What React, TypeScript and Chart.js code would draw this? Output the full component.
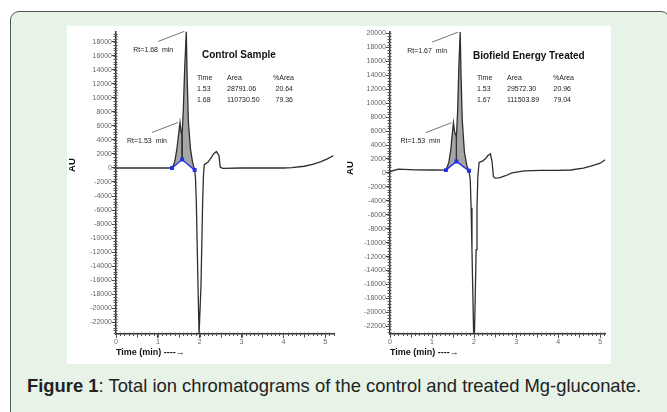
import React, { useEffect, useRef } from 'react';
import { Chart, registerables } from 'chart.js';

Chart.register(...registerables);

// ---------- Control sample ----------
const controlTime = [0, 0.04, 0.08, 0.5, 1.0, 1.34, 1.40, 1.45, 1.50, 1.53, 1.56, 1.58, 1.61, 1.64, 1.68, 1.70, 1.73, 1.78, 1.83, 1.88, 1.90, 1.92, 1.94, 1.96, 1.985, 2.005, 2.03, 2.05, 2.07, 2.09, 2.11, 2.20, 2.28, 2.33, 2.40, 2.46, 2.49, 2.55, 3.0, 3.5, 4.0, 4.2, 4.5, 4.7, 4.9, 5.05, 5.2];
const controlAU = [0, 0, 0, 0, 0, 0, 800, 2500, 5000, 6500, 5000, 4700, 8500, 14000, 19500, 13000, 6500, 2700, 800, -300, -1500, -5000, -11000, -17000, -23700, -23700, -17000, -11000, -5000, -1000, 470, 850, 1500, 2000, 2350, 1790, 140, -50, 0, 0, 0, 50, 250, 500, 900, 1300, 1790];
const controlBaseTime = [1.34, 1.58, 1.88];
const controlBaseAU = [0, 1200, -300];
const controlPeakTimes = [1.53, 1.68];
const controlPeakLabels = ['Rt=1.53  min', 'Rt=1.68  min'];
const controlYTicks = [-22000, -20000, -18000, -16000, -14000, -12000, -10000, -8000, -6000, -4000, -2000, 0, 2000, 4000, 6000, 8000, 10000, 12000, 14000, 16000, 18000];
const controlTitle = 'Control Sample';
const controlTable = [['1.53', '28791.06', '20.64'], ['1.68', '110730.50', '79.36']];

// ---------- Biofield Energy Treated ----------
const treatedTime = [0, 0.2, 0.6, 1.0, 1.33, 1.40, 1.45, 1.48, 1.51, 1.54, 1.58, 1.61, 1.64, 1.67, 1.69, 1.72, 1.77, 1.83, 1.88, 1.91, 1.93, 1.95, 1.97, 1.99, 2.01, 2.03, 2.05, 2.07, 2.09, 2.12, 2.20, 2.27, 2.33, 2.39, 2.43, 2.46, 2.50, 2.60, 2.75, 2.9, 3.2, 3.6, 4.0, 4.3, 4.6, 4.8, 5.0, 5.12];
const treatedAU = [200, 550, 450, 420, 400, 1500, 3500, 5500, 7200, 5800, 5200, 9000, 15500, 20200, 14000, 7500, 3000, 1000, 300, -1000, -5000, -11000, -17000, -23100, -23100, -17000, -11000, -5000, -500, 1500, 1700, 2030, 2500, 2740, 1560, -500, -750, -700, -400, 0, 300, 380, 380, 420, 700, 1000, 1400, 1890];
const treatedBaseTime = [1.33, 1.58, 1.88];
const treatedBaseAU = [400, 1650, 300];
const treatedPeakTimes = [1.51, 1.67];
const treatedPeakLabels = ['Rt=1.53  min', 'Rt=1.67  min'];
const treatedYTicks = [-22000, -20000, -18000, -16000, -14000, -12000, -10000, -8000, -6000, -4000, -2000, 0, 2000, 4000, 6000, 8000, 10000, 12000, 14000, 16000, 18000, 20000];
const treatedTitle = 'Biofield Energy Treated';
const treatedTable = [['1.53', '29572.30', '20.96'], ['1.67', '111503.89', '79.04']];

const xTicks = [0, 1, 2, 3, 4, 5];
const tableHeader = ['Time', 'Area', '%Area'];
const yAxisTitle = 'AU';
const xAxisTitle = 'Time (min) ----\u2192';
const caption = ': Total ion chromatograms of the control and treated Mg-gluconate.';
const captionBold = 'Figure 1';

const FONT = '"Liberation Sans", Arial, Helvetica, sans-serif';

const chromPlugin = {
  id: 'chrom',
  afterDraw(chart: any, _args: any, opts: any) {
    const { ctx, scales, chartArea } = chart;
    const x = scales.x;
    const y = scales.y;
    ctx.save();
    ctx.strokeStyle = '#555';
    ctx.lineWidth = 1;
    // minor y ticks
    const ys = opts.yMinor;
    for (let k = Math.ceil(y.min / ys); k * ys <= y.max; k++) {
      const py = Math.round(y.getPixelForValue(k * ys)) + 0.5;
      ctx.beginPath();
      ctx.moveTo(chartArea.left - 2.5, py);
      ctx.lineTo(chartArea.left + 1.5, py);
      ctx.stroke();
    }
    // minor x ticks
    const xs = opts.xMinor;
    for (let k = 0; k * xs <= x.max + 1e-9; k++) {
      const px = Math.round(x.getPixelForValue(k * xs)) + 0.5;
      const len = k % 5 === 0 ? 3.5 : 2;
      ctx.beginPath();
      ctx.moveTo(px, chartArea.bottom - 1.5);
      ctx.lineTo(px, chartArea.bottom + len);
      ctx.stroke();
    }
    // peak annotations
    ctx.font = '7px ' + FONT;
    ctx.textBaseline = 'middle';
    ctx.fillStyle = '#222';
    opts.peaks.forEach((pk: any) => {
      const px = x.getPixelForValue(pk.x);
      const py = y.getPixelForValue(pk.y);
      ctx.strokeStyle = '#666';
      ctx.lineWidth = 0.9;
      ctx.beginPath();
      ctx.moveTo(px - 28, py + 10);
      ctx.lineTo(px - 2, py);
      ctx.stroke();
      ctx.fillText(pk.label, px - 53, py + 18.5);
    });
    ctx.restore();
  },
};

type Spec = {
  time: number[];
  au: number[];
  baseTime: number[];
  baseAU: number[];
  peakTimes: number[];
  peakLabels: string[];
  yTicks: number[];
  yMin: number;
  yMax: number;
  xMax: number;
  yAxisW: number;
  xAxisH: number;
  padTop: number;
  padRight: number;
};

function buildConfig(s: Spec): any {
  const trace = s.time.map((t, i) => ({ x: t, y: s.au[i] }));
  const base = s.baseTime.map((t, i) => ({ x: t, y: s.baseAU[i] }));
  const t0 = s.baseTime[0];
  const t1 = s.baseTime[s.baseTime.length - 1];
  const seg = trace.filter((p) => p.x >= t0 && p.x <= t1);
  const vIdx = s.time.indexOf(s.baseTime[1]);
  const drop = [
    { x: s.time[vIdx], y: s.au[vIdx] },
    { x: s.baseTime[1], y: s.baseAU[1] },
  ];
  const peaks = s.peakTimes.map((t, i) => ({ x: t, y: s.au[s.time.indexOf(t)], label: s.peakLabels[i] }));
  return {
    type: 'line',
    data: {
      datasets: [
        { data: trace, borderColor: '#2e2e2e', borderWidth: 1.3, pointRadius: 0, fill: false, order: 1 },
        {
          data: base,
          borderColor: '#2233e6',
          borderWidth: 1.4,
          pointRadius: 1.8,
          pointStyle: 'rect',
          pointBackgroundColor: '#2233e6',
          pointBorderColor: '#2233e6',
          fill: false,
          order: 0,
        },
        { data: drop, borderColor: '#333', borderWidth: 1, pointRadius: 0, fill: false, order: 2 },
        { data: seg, borderWidth: 0, borderColor: 'rgba(0,0,0,0)', pointRadius: 0, fill: '-2', backgroundColor: '#a6a6a6', order: 3 },
      ],
    },
    options: {
      animation: false,
      responsive: false,
      maintainAspectRatio: false,
      events: [],
      layout: { padding: { top: s.padTop, right: s.padRight, left: 0, bottom: 0 } },
      plugins: {
        legend: { display: false },
        tooltip: { enabled: false },
        chrom: { yMinor: 400, xMinor: 0.1, peaks },
      },
      scales: {
        x: {
          type: 'linear',
          min: 0,
          max: s.xMax,
          afterBuildTicks: (sc: any) => {
            sc.ticks = xTicks.map((v) => ({ value: v }));
          },
          afterFit: (sc: any) => {
            sc.height = s.xAxisH;
          },
          grid: { display: true, drawOnChartArea: false, drawTicks: true, tickLength: 4, color: '#444', lineWidth: 1 },
          border: { display: true, color: '#333', width: 1.5 },
          ticks: {
            font: { size: 7, family: FONT },
            color: '#666',
            padding: 0,
            maxRotation: 0,
            autoSkip: false,
            callback: (v: any) => String(v),
          },
          title: {
            display: true,
            text: xAxisTitle,
            align: 'start',
            font: { size: 9, weight: 'bold', family: FONT },
            color: '#111',
            padding: { top: 0, bottom: 6 },
          },
        },
        y: {
          type: 'linear',
          min: s.yMin,
          max: s.yMax,
          afterBuildTicks: (sc: any) => {
            sc.ticks = s.yTicks.map((v) => ({ value: v }));
          },
          afterFit: (sc: any) => {
            sc.width = s.yAxisW;
          },
          grid: { display: true, drawOnChartArea: false, drawTicks: true, tickLength: 4, color: '#444', lineWidth: 1 },
          border: { display: true, color: '#333', width: 1.5 },
          ticks: {
            font: { size: 7, family: FONT },
            color: '#666',
            padding: 0,
            autoSkip: false,
            callback: (v: any) => String(v),
          },
        },
      },
    },
    plugins: [chromPlugin],
  };
}

function ChromChart(props: { spec: Spec; left: number; top: number; width: number; height: number }) {
  const ref = useRef<HTMLCanvasElement | null>(null);
  useEffect(() => {
    if (!ref.current) return;
    const chart = new Chart(ref.current, buildConfig(props.spec));
    return () => chart.destroy();
  }, []);
  return (
    <canvas
      ref={ref}
      width={props.width}
      height={props.height}
      style={{ position: 'absolute', left: props.left, top: props.top, width: props.width, height: props.height }}
    />
  );
}

function Table(props: { left: number; top: number; title: string; rows: string[][]; cols: number[]; valCols: number[]; titleLeft: number; titleTop: number }) {
  const cell = (txt: string, x: number, y: number, key: string) => (
    <span key={key} style={{ position: 'absolute', left: x, top: y, fontSize: 7, lineHeight: '11px', whiteSpace: 'nowrap', color: '#222' }}>
      {txt}
    </span>
  );
  return (
    <>
      <div style={{ position: 'absolute', left: props.titleLeft, top: props.titleTop, fontSize: 10, lineHeight: '12px', fontWeight: 'bold', color: '#111', whiteSpace: 'nowrap' }}>
        {props.title}
      </div>
      {tableHeader.map((h, i) => cell(h, props.left + props.cols[i], props.top, 'h' + i))}
      {props.rows.map((r, ri) => r.map((c, ci) => cell(c, props.left + props.valCols[ci], props.top + 11 * (ri + 1), 'r' + ri + ci)))}
    </>
  );
}

export default function App() {
  const controlSpec: Spec = {
    time: controlTime,
    au: controlAU,
    baseTime: controlBaseTime,
    baseAU: controlBaseAU,
    peakTimes: controlPeakTimes,
    peakLabels: controlPeakLabels,
    yTicks: controlYTicks,
    yMin: -23700,
    yMax: 19500,
    xMax: 5.2,
    yAxisW: 49,
    xAxisH: 30,
    padTop: 1.5,
    padRight: 3.7,
  };
  const treatedSpec: Spec = {
    time: treatedTime,
    au: treatedAU,
    baseTime: treatedBaseTime,
    baseAU: treatedBaseAU,
    peakTimes: treatedPeakTimes,
    peakLabels: treatedPeakLabels,
    yTicks: treatedYTicks,
    yMin: -23100,
    yMax: 20300,
    xMax: 5.13,
    yAxisW: 45,
    xAxisH: 30,
    padTop: 1.9,
    padRight: 3.4,
  };
  const auStyle = (x: number, y: number): React.CSSProperties => ({
    position: 'absolute',
    left: x - 10,
    top: y - 6,
    width: 20,
    height: 12,
    lineHeight: '12px',
    textAlign: 'center',
    fontSize: 9.5,
    fontWeight: 'bold',
    color: '#111',
    transform: 'rotate(-90deg)',
  });
  return (
    <div style={{ position: 'fixed', left: 0, top: 0, width: 667, height: 412, overflow: 'hidden', background: '#fff', fontFamily: FONT }}>
      <div
        style={{
          position: 'absolute',
          left: 10,
          top: 11,
          width: 660,
          height: 440,
          boxSizing: 'border-box',
          border: '1.5px solid #555',
          borderRadius: 9,
          background: '#e8f3e8',
        }}
      />
      <div style={{ position: 'absolute', left: 67, top: 26, width: 544, height: 338, background: '#fff' }} />
      <ChromChart spec={controlSpec} left={67} top={26} width={272} height={338} />
      <ChromChart spec={treatedSpec} left={345} top={26} width={266} height={338} />
      <div style={auStyle(72, 165)}>{yAxisTitle}</div>
      <div style={auStyle(350, 168)}>{yAxisTitle}</div>
      <Table left={0} top={72} title={controlTitle} rows={controlTable} cols={[197, 227, 273]} valCols={[197, 227, 275.5]} titleLeft={202} titleTop={49} />
      <Table left={0} top={72} title={treatedTitle} rows={treatedTable} cols={[477, 507, 553]} valCols={[477, 507, 553.5]} titleLeft={473} titleTop={50} />
      <div style={{ position: 'absolute', left: 27, top: 375, fontSize: 18.4, lineHeight: '22px', color: '#222', whiteSpace: 'nowrap' }}>
        <b>{captionBold}</b>
        {caption}
      </div>
    </div>
  );
}
